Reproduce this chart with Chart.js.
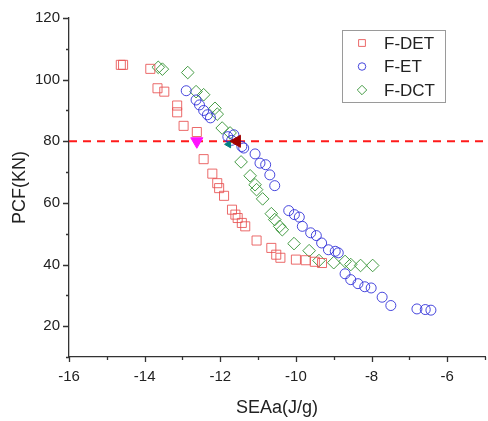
<!DOCTYPE html>
<html>
<head>
<meta charset="utf-8">
<script src="https://cdn.jsdelivr.net/npm/chart.js@4.4.0/dist/chart.umd.min.js"></script>
<style>
  html, body { margin: 0; padding: 0; background: #fff; overflow: hidden; }
  canvas { display: block; }
</style>
</head>
<body>
<canvas id="pcfChart" width="496" height="421"></canvas>
<script>
// SEAa (J/g) vs PCF (kN) for three tube configurations
const detX = [-14.63, -14.57, -13.85, -13.66, -13.48, -13.14, -13.14, -12.97, -12.62, -12.44, -12.21, -12.08, -12.03, -11.90, -11.69, -11.60, -11.54, -11.43, -11.34, -11.04, -10.65, -10.52, -10.41, -10.00, -9.74, -9.50, -9.31];
const detY = [104.8, 104.8, 103.5, 97.2, 96.1, 91.6, 89.4, 85.0, 83.0, 74.2, 69.5, 66.4, 64.8, 62.3, 57.8, 56.2, 55.1, 53.5, 52.4, 47.8, 45.4, 43.2, 42.2, 41.6, 41.4, 40.9, 40.5];

const etX = [-12.90, -12.64, -12.55, -12.44, -12.34, -12.26, -11.80, -11.70, -11.64, -11.43, -11.38, -11.08, -10.95, -10.80, -10.69, -10.56, -10.19, -10.04, -9.91, -9.83, -9.61, -9.46, -9.32, -9.14, -8.96, -8.88, -8.70, -8.55, -8.36, -8.18, -8.01, -7.72, -7.49, -6.80, -6.58, -6.43];
const etY = [96.4, 93.4, 91.8, 90.0, 88.6, 87.6, 81.5, 80.3, 82.1, 78.3, 77.8, 75.9, 72.9, 72.4, 69.1, 65.6, 57.5, 56.2, 55.4, 52.4, 50.3, 49.4, 47.0, 44.8, 44.3, 43.8, 37.0, 35.1, 33.8, 32.8, 32.4, 29.4, 26.7, 25.6, 25.4, 25.2];

const dctX = [-13.64, -13.53, -12.86, -12.64, -12.44, -12.14, -12.08, -11.95, -11.74, -11.45, -11.21, -11.08, -11.04, -10.88, -10.65, -10.56, -10.43, -10.36, -10.05, -9.65, -9.39, -9.00, -8.70, -8.55, -8.29, -7.97];
const dctY = [104.0, 103.4, 102.3, 96.1, 95.1, 90.7, 88.8, 84.3, 82.7, 73.3, 68.8, 65.9, 64.3, 61.3, 56.5, 54.6, 52.4, 51.3, 46.8, 44.5, 41.3, 40.6, 41.0, 40.0, 39.7, 39.7];

// highlighted points on the 80 kN limit
const limitPCF = 80;
const detPickX = -12.62;
const etPickX = -11.56;
const dctPickX = -11.78;

const xMin = -16, xMax = -5;
const yMin = 10, yMax = 120;

Chart.defaults.font.family = '"Liberation Sans", Arial, sans-serif';
Chart.defaults.color = '#222';

function toPoints(xs, ys) {
    return xs.map((x, i) => ({ x: x, y: ys[i] }));
}

const series = [
    { label: 'F-DET', color: 'rgba(232, 80, 80, 0.85)', style: 'rect', radius: 6.4, xs: detX, ys: detY },
    { label: 'F-ET', color: 'rgba(40, 40, 215, 0.85)', style: 'circle', radius: 5, xs: etX, ys: etY },
    { label: 'F-DCT', color: 'rgba(50, 145, 50, 0.9)', style: 'rectRot', radius: 6.3, xs: dctX, ys: dctY }
];

// outward tick marks, long on labelled values and short in between
const axisTicks = {
    id: 'axisTicks',
    afterDraw(chart) {
        const ctx = chart.ctx;
        const xs = chart.scales.x, ys = chart.scales.y;
        const area = chart.chartArea;
        ctx.save();
        ctx.strokeStyle = '#333';
        ctx.lineWidth = 1.3;
        ctx.beginPath();
        for (let v = xMin; v <= xMax; v++) {
            const px = Math.round(xs.getPixelForValue(v)) + 0.5;
            const len = v % 2 === 0 ? 5 : 3;
            ctx.moveTo(px, area.bottom);
            ctx.lineTo(px, area.bottom + len);
        }
        for (let v = yMin; v <= yMax; v += 10) {
            const py = Math.round(ys.getPixelForValue(v)) + 0.5;
            const len = v % 20 === 0 ? 6 : 3;
            ctx.moveTo(area.left, py);
            ctx.lineTo(area.left - len, py);
        }
        ctx.stroke();
        ctx.restore();
    }
};

// boxed legend inside the plot
const boxLegend = {
    id: 'boxLegend',
    afterDraw(chart) {
        const ctx = chart.ctx;
        const left = 342, top = 30, w = 103, h = 72;
        ctx.save();
        ctx.strokeStyle = '#9a9a9a';
        ctx.lineWidth = 1;
        ctx.strokeRect(left + 0.5, top + 0.5, w, h);
        ctx.font = '17px "Liberation Sans", Arial, sans-serif';
        ctx.textBaseline = 'middle';
        series.forEach((s, i) => {
            const cy = top + 13 + i * 23.5;
            ctx.strokeStyle = s.color;
            ctx.fillStyle = 'rgba(0,0,0,0)';
            ctx.lineWidth = 1;
            Chart.helpers.drawPoint(ctx, { pointStyle: s.style, radius: s.radius * 0.75, rotation: 0, borderWidth: 1 }, 362, cy);
            ctx.fillStyle = '#222';
            ctx.fillText(s.label, 384, cy + 1);
        });
        ctx.restore();
    }
};

const datasets = [
    {
        label: 'DET pick', data: [{ x: detPickX, y: limitPCF }],
        pointStyle: 'triangle', rotation: 180, pointRadius: 7,
        backgroundColor: '#ff10ff', borderColor: '#ff10ff', borderWidth: 1
    },
    {
        label: 'ET pick', data: [{ x: etPickX, y: limitPCF }],
        pointStyle: 'triangle', rotation: -90, pointRadius: 7,
        backgroundColor: '#a00000', borderColor: '#a00000', borderWidth: 1
    },
    {
        label: 'DCT pick', data: [{ x: dctPickX, y: limitPCF - 1 }],
        pointStyle: 'triangle', rotation: -90, pointRadius: 4,
        backgroundColor: '#008080', borderColor: '#008080', borderWidth: 1
    }
];

series.forEach(s => {
    datasets.push({
        label: s.label,
        data: toPoints(s.xs, s.ys),
        pointStyle: s.style,
        pointRadius: s.radius,
        pointBorderWidth: 1,
        borderColor: s.color,
        backgroundColor: 'rgba(0,0,0,0)'
    });
});

datasets.push({
    type: 'line',
    label: 'limit',
    data: [{ x: xMin, y: limitPCF }, { x: xMax, y: limitPCF }],
    borderColor: '#ff1a1a',
    borderWidth: 2,
    borderDash: [8, 6],
    pointRadius: 0,
    fill: false
});

new Chart(document.getElementById('pcfChart'), {
    type: 'scatter',
    data: { datasets: datasets },
    plugins: [axisTicks, boxLegend],
    options: {
        responsive: false,
        animation: false,
        layout: { padding: { top: 18, right: 3.5, bottom: 0, left: 0 } },
        plugins: {
            legend: { display: false },
            tooltip: { enabled: false }
        },
        scales: {
            x: {
                type: 'linear',
                min: xMin,
                max: xMax,
                grid: { display: false, drawTicks: false },
                border: { display: true, color: '#333', width: 1.3 },
                ticks: {
                    stepSize: 1,
                    padding: 11,
                    autoSkip: false,
                    maxRotation: 0,
                    color: '#222',
                    font: { size: 15 },
                    callback: v => (v % 2 === 0 && v < xMax) ? v : ''
                },
                title: {
                    display: true,
                    text: 'SEAa(J/g)',
                    color: '#222',
                    font: { size: 18 },
                    padding: { top: 0, bottom: 2 }
                },
                afterFit: scale => { scale.height = 64; }
            },
            y: {
                type: 'linear',
                min: yMin,
                max: yMax,
                grid: { display: false, drawTicks: false },
                border: { display: true, color: '#333', width: 1.3 },
                ticks: {
                    stepSize: 10,
                    padding: 9,
                    color: '#222',
                    font: { size: 15 },
                    callback: v => v % 20 === 0 ? v : ''
                },
                title: {
                    display: true,
                    text: 'PCF(KN)',
                    color: '#222',
                    font: { size: 18 },
                    padding: { top: 9, bottom: 0 }
                },
                afterFit: scale => { scale.width = 69; }
            }
        }
    }
});
</script>
</body>
</html>
